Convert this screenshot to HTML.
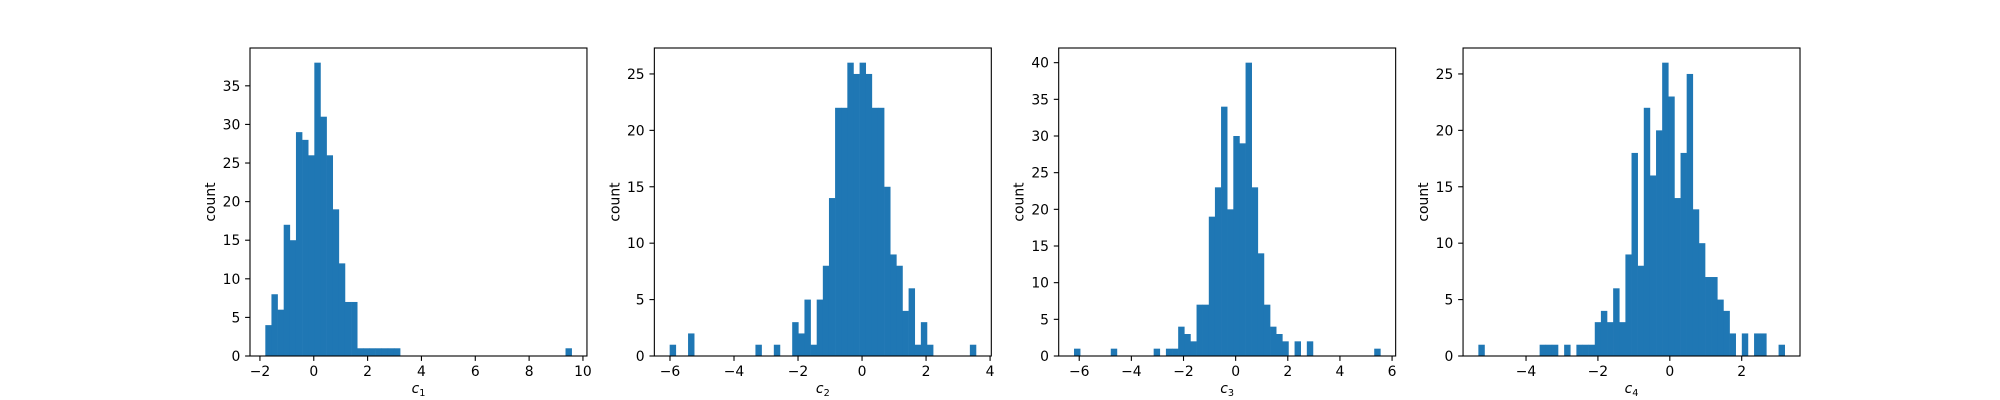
<!DOCTYPE html>
<html><head><meta charset="utf-8"><style>
html,body{margin:0;padding:0;background:#fff;}
svg{display:block;font-family:"DejaVu Sans","Liberation Sans",sans-serif;}
</style></head><body>
<svg id="fig" width="2000" height="400" viewBox="0 0 2000 400" xmlns="http://www.w3.org/2000/svg"></svg>
<script>
const counts1 = [4,8,6,17,15,29,28,26,38,31,26,19,12,7,7,1,1,1,1,1,1,1,0,0,0,0,0,0,0,0,0,0,0,0,0,0,0,0,0,0,0,0,0,0,0,0,0,0,0,1];
const counts2 = [1,0,0,2,0,0,0,0,0,0,0,0,0,0,1,0,0,1,0,0,3,2,5,1,5,8,14,22,22,26,25,26,25,22,22,15,9,8,4,6,1,3,1,0,0,0,0,0,0,1];
const counts3 = [1,0,0,0,0,0,1,0,0,0,0,0,0,1,0,1,1,4,3,2,7,7,19,23,34,20,30,29,40,23,14,7,4,3,2,0,2,0,2,0,0,0,0,0,0,0,0,0,0,1];
const counts4 = [1,0,0,0,0,0,0,0,0,0,1,1,1,0,1,0,1,1,1,3,4,3,6,3,9,18,8,22,16,20,26,23,14,18,25,13,10,7,7,5,4,2,0,2,0,2,2,0,0,1];
const dataRanges = [[-1.80,9.58],[-6.01,3.56],[-6.20,5.55],[-5.326,3.196]];
const xTicks1 = [-2,0,2,4,6,8,10];
const xTicks2 = [-6,-4,-2,0,2,4];
const xTicks3 = [-6,-4,-2,0,2,4,6];
const xTicks4 = [-4,-2,0,2];
const yTicks1 = [0,5,10,15,20,25,30,35];
const yTicks2 = [0,5,10,15,20,25];
const yTicks3 = [0,5,10,15,20,25,30,35,40];
const yTicks4 = [0,5,10,15,20,25];
const xLabelSubs = ["1","2","3","4"];

const NS = "http://www.w3.org/2000/svg";
const svgEl = document.getElementById('fig');
function mk(tag, attrs, parent){const e=document.createElementNS(NS,tag);for(const k in attrs)e.setAttribute(k,attrs[k]);(parent||svgEl).appendChild(e);return e;}
const panels=[[counts1,xTicks1,yTicks1],[counts2,xTicks2,yTicks2],[counts3,xTicks3,yTicks3],[counts4,xTicks4,yTicks4]];
const axW=336.96, axGap=67.39, axTop=48, axBottom=356;
panels.forEach((p,k)=>{
  const [counts,xt,yt]=p;
  const [mn,mx]=dataRanges[k];
  const R=mx-mn, x0=mn-0.05*R, x1=mx+0.05*R;
  const ymax=Math.max(...counts)*1.05;
  const L=250+k*(axW+axGap), Rr=L+axW;
  const sx=v=>L+(v-x0)/(x1-x0)*axW;
  const sy=v=>axBottom-v/ymax*(axBottom-axTop);
  const g=mk('g',{});
  
  
  const n=counts.length, bw=R/n;
  counts.forEach((c,i)=>{
    if(c<=0)return;
    const a=sx(mn+i*bw), b=sx(mn+(i+1)*bw);
    const r=mk('rect',{x:a,y:sy(c),width:b-a+0.3,height:axBottom-sy(c),fill:'#1f77b4'},g);
    
    
  });
  const fr=mk('rect',{x:L,y:axTop,width:axW,height:axBottom-axTop,fill:'none',stroke:'#000','stroke-width':1.1},g);
  
  
  xt.forEach(v=>{
    const x=sx(v);
    mk('line',{x1:x,x2:x,y1:axBottom,y2:axBottom+4.9,stroke:'#000','stroke-width':1.1},g);
    const t=mk('text',{x:x,y:376,'font-size':13.9,'text-anchor':'middle',fill:'#000'},g);
    t.textContent=(v<0?'\u2212'+(-v):''+v);
    
    
  });
  yt.forEach(v=>{
    const y=sy(v);
    mk('line',{x1:L-4.9,x2:L,y1:y,y2:y,stroke:'#000','stroke-width':1.1},g);
    const t=mk('text',{x:L-9.7,y:y+5,'font-size':13.9,'text-anchor':'end',fill:'#000'},g);
    t.textContent=''+v;
    
    
  });
  const yl=mk('text',{x:0,y:0,'font-size':13.9,'text-anchor':'middle',fill:'#000',transform:'translate('+(L-35)+','+((axTop+axBottom)/2)+') rotate(-90)'},g);
  yl.textContent='count';
  
  
  const xl=mk('text',{x:(L+Rr)/2,y:393,'font-size':13.9,'text-anchor':'middle',fill:'#000'},g);
  
  
  const t1=mk('tspan',{'font-style':'italic'},xl); t1.textContent='c';
  const t2=mk('tspan',{'font-size':9.7,dy:3},xl); t2.textContent=xLabelSubs[k];
});
</script>
</body></html>
